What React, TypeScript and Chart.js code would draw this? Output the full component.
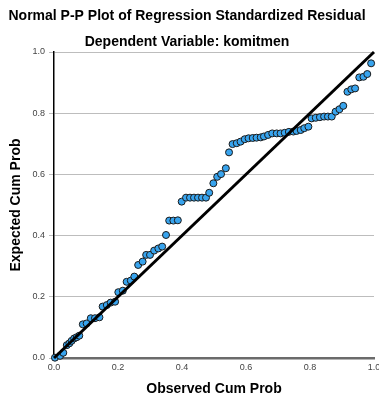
import React, { useEffect, useRef } from "react";
import { Chart, registerables } from "chart.js";

Chart.register(...registerables);

const observedCumProb: number[] = [
  0.003, 0.019, 0.029, 0.040, 0.048, 0.055, 0.063, 0.071, 0.079, 0.090,
  0.102, 0.115, 0.128, 0.142, 0.152, 0.165, 0.177, 0.191, 0.201, 0.215,
  0.227, 0.240, 0.251, 0.263, 0.277, 0.288, 0.300, 0.313, 0.326, 0.338,
  0.350, 0.360, 0.373, 0.387, 0.399, 0.4125, 0.425, 0.4375, 0.450, 0.4625,
  0.475, 0.485, 0.498, 0.510, 0.522, 0.537, 0.547, 0.558, 0.571, 0.583,
  0.596, 0.608, 0.621, 0.633, 0.646, 0.656, 0.669, 0.682, 0.696, 0.708,
  0.721, 0.734, 0.748, 0.758, 0.771, 0.782, 0.795, 0.805, 0.818, 0.831,
  0.844, 0.856, 0.868, 0.880, 0.892, 0.904, 0.917, 0.929, 0.941, 0.954,
  0.967, 0.979, 0.991,
];

const expectedCumProb: number[] = [
  0.001, 0.007, 0.017, 0.042, 0.048, 0.056, 0.064, 0.068, 0.073, 0.110,
  0.113, 0.130, 0.130, 0.133, 0.168, 0.173, 0.181, 0.184, 0.215, 0.220,
  0.249, 0.253, 0.266, 0.304, 0.315, 0.337, 0.337, 0.351, 0.358, 0.364,
  0.402, 0.449, 0.449, 0.450, 0.511, 0.524, 0.524, 0.524, 0.524, 0.524,
  0.524, 0.540, 0.571, 0.592, 0.601, 0.620, 0.672, 0.699, 0.702, 0.707,
  0.715, 0.718, 0.719, 0.720, 0.721, 0.724, 0.729, 0.734, 0.734, 0.734,
  0.736, 0.739, 0.740, 0.742, 0.745, 0.751, 0.756, 0.783, 0.785, 0.787,
  0.789, 0.789, 0.789, 0.805, 0.813, 0.824, 0.870, 0.878, 0.881, 0.917,
  0.919, 0.928, 0.963,
];

const referenceLine = [
  { x: 0, y: 0 },
  { x: 1, y: 1 },
];

const tickValues: number[] = [0, 0.2, 0.4, 0.6, 0.8, 1.0];

const titleText = "Normal P-P Plot of Regression Standardized Residual";
const subtitleText = "Dependent Variable: komitmen";
const xTitle = "Observed Cum Prob";
const yTitle = "Expected Cum Prob";

const FONT = "'Liberation Sans', Arial, sans-serif";

export default function App() {
  const ref = useRef<HTMLCanvasElement | null>(null);

  useEffect(() => {
    if (!ref.current) return;
    const points = observedCumProb.map((x, i) => ({ x, y: expectedCumProb[i] }));
    const chart = new Chart(ref.current, {
      type: "scatter",
      data: {
        datasets: [
          {
            type: "line",
            data: referenceLine,
            borderColor: "#000000",
            borderWidth: 3,
            pointRadius: 0,
            fill: false,
            order: 0,
            clip: false,
          } as any,
          {
            type: "scatter",
            data: points,
            backgroundColor: "#38a4ee",
            borderColor: "#1a1a1a",
            borderWidth: 1,
            pointRadius: 3.5,
            order: 1,
            clip: false,
          } as any,
        ],
      },
      options: {
        responsive: false,
        animation: false,
        layout: { padding: { left: 0, right: 5, top: 0, bottom: 0 } },
        plugins: {
          legend: { display: false },
          tooltip: { enabled: false },
          title: {
            display: true,
            text: titleText,
            color: "#000",
            font: { family: FONT, size: 14, weight: "bold", lineHeight: 1.2 },
            padding: { top: 7.6, bottom: 0 },
          },
          subtitle: {
            display: true,
            text: subtitleText,
            color: "#000",
            font: { family: FONT, size: 14, weight: "bold", lineHeight: 1.2 },
            padding: { top: 9.2, bottom: 1.6 },
          },
        },
        scales: {
          x: {
            type: "linear",
            min: 0,
            max: 1,
            afterBuildTicks: (scale: any) => {
              scale.ticks = tickValues.map((v) => ({ value: v }));
            },
            afterFit: (scale: any) => {
              scale.height = 41;
              scale.paddingLeft = 0;
              scale.paddingRight = 0;
            },
            grid: { display: false, drawTicks: false },
            border: { display: true, color: "#6b6b6b", width: 2.5 },
            ticks: {
              color: "#444",
              font: { family: FONT, size: 9 },
              padding: 4,
              callback: (v: any) => Number(v).toFixed(1),
            },
            title: {
              display: true,
              text: xTitle,
              color: "#000",
              font: { family: FONT, size: 14, weight: "bold", lineHeight: 1.2 },
              padding: { top: 0, bottom: 1 },
            },
          },
          y: {
            type: "linear",
            min: 0,
            max: 1,
            afterBuildTicks: (scale: any) => {
              scale.ticks = tickValues.map((v) => ({ value: v }));
            },
            afterFit: (scale: any) => {
              scale.width = 54;
              scale.paddingTop = 0;
              scale.paddingBottom = 0;
            },
            grid: {
              display: true,
              color: "#bdbdbd",
              lineWidth: 1,
              drawTicks: true,
              tickLength: 5,
            },
            border: { display: true, color: "#000000", width: 1.5 },
            ticks: {
              color: "#444",
              font: { family: FONT, size: 9 },
              padding: 4,
              callback: (v: any) => Number(v).toFixed(1),
            },
            title: {
              display: true,
              text: yTitle,
              color: "#000",
              font: { family: FONT, size: 14, weight: "bold", lineHeight: 1.2 },
              padding: { top: 7.6, bottom: 0 },
            },
          },
        },
      } as any,
    });
    return () => chart.destroy();
  }, []);

  return (
    <div style={{ position: "absolute", left: 0, top: 0, width: 379, height: 399, background: "#fff" }}>
      <canvas ref={ref} width={379} height={399} style={{ display: "block" }} />
    </div>
  );
}
